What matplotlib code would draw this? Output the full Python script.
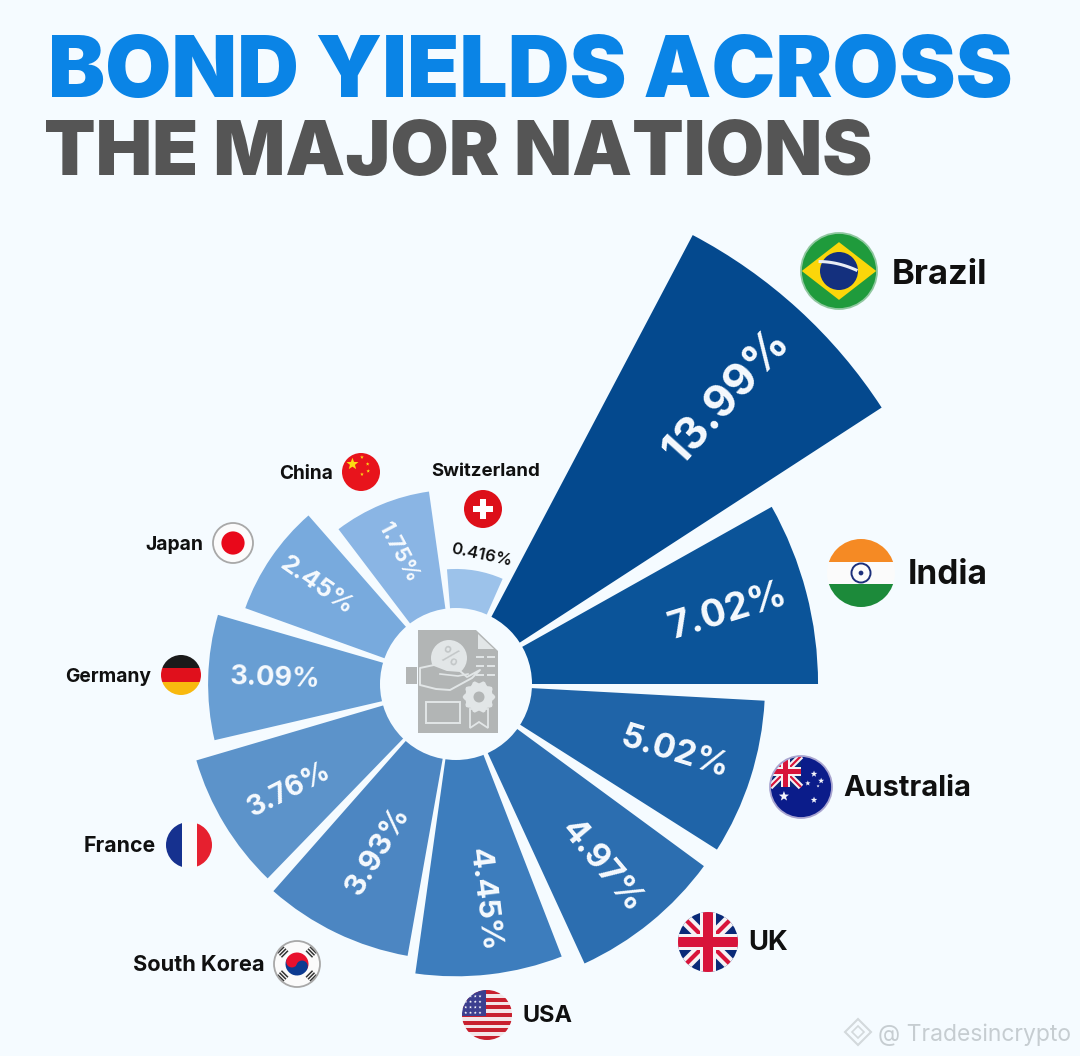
import numpy as np
import matplotlib
matplotlib.use("Agg")
import matplotlib.pyplot as plt
from matplotlib.patches import Wedge, Circle, Rectangle, Polygon

# data
countries = ["Switzerland", "Brazil", "India", "Australia", "UK", "USA",
             "South Korea", "France", "Germany", "Japan", "China"]
yields = [0.416, 13.99, 7.02, 5.02, 4.97, 4.45, 3.93, 3.76, 3.09, 2.45, 1.75]
yield_labels = ["0.416%", "13.99%", "7.02%", "5.02%", "4.97%", "4.45%",
                "3.93%", "3.76%", "3.09%", "2.45%", "1.75%"]

BG = "#f5fbff"
FONT = "Inter"
CX, CY = 456, 684

# sector layout, clockwise from 12 o'clock
start_angles = [-4.5, 27.8, 60.7, 93.1, 126.3, 158.8, 190.1, 224.1, 256.9, 289.8, 322.8]
end_angles = [23.9, 57.0, 90.0, 122.4, 155.3, 188.0, 221.4, 253.6, 286.2, 318.8, 352.0]
sector_colors = ["#9cc2ea", "#04498e", "#0b5499", "#1f64a8", "#2c6eb0", "#3d7dbd",
                 "#4c86c2", "#5c93ca", "#689ed3", "#78aadd", "#8ab5e4"]

# label placement: x, y, rotation, text width
value_text = [(481, 555, -12, 62), (727, 396, 48, 166), (728, 612, 17, 122), (675, 753, -17, 112),
              (602, 866, -50, 110), (484, 900, -83, 104), (378, 851, 59, 98), (289, 790, 27, 90),
              (275, 679, -2, 90), (317, 586, -35, 84), (398, 552, -62, 64)]
name_text = [(431, 470, 109), (892, 272, 96), (908, 572, 80), (843, 785, 128), (748, 940, 40),
             (522, 1013, 50), (133, 963, 132), (84, 844, 72), (65, 675, 86), (145, 543, 58), (279, 472, 54)]
flag_spots = [(483, 509, 19), (839, 271, 38), (861, 573, 34), (801, 787, 31), (708, 942, 30),
              (487, 1015, 25), (297, 964, 23), (189, 845, 23), (181, 675, 20), (233, 543, 20), (361, 472, 19)]


def radius_of(value):
    # the picture's radial scale, pixels from the hub
    return 50 + 105.8 * value ** 0.555


def fit_text(ax, x, y, s, width, rotation=0, **kw):
    t = ax.text(x, y, s, rotation=0, **kw)
    renderer = ax.figure.canvas.get_renderer()
    w = t.get_window_extent(renderer).width
    t.set_fontsize(t.get_fontsize() * width / w)
    t.set_rotation(rotation)
    return t


def star(ax, x, y, r, color, clip, rot=0):
    a = np.deg2rad(np.arange(10) * 36 - 90 + rot)
    rr = np.where(np.arange(10) % 2 == 0, r, r * 0.42)
    p = Polygon(np.c_[x + rr * np.cos(a), y + rr * np.sin(a)], fc=color, ec="none", zorder=6)
    ax.add_patch(p)
    p.set_clip_path(clip)


def union_jack(ax, x0, y0, w, h, clip):
    # x0, y0 top left
    def add(p):
        ax.add_patch(p)
        p.set_clip_path(clip)
    add(Rectangle((x0, y0), w, h, fc="#0a2a78", ec="none", zorder=5))
    for a, b in [((x0, y0), (x0 + w, y0 + h)), ((x0 + w, y0), (x0, y0 + h))]:
        l, = ax.plot([a[0], b[0]], [a[1], b[1]], color="#f7f2f4", lw=h * 0.2 * 0.72, zorder=5.1, solid_capstyle="butt")
        l.set_clip_path(clip)
        l, = ax.plot([a[0], b[0]], [a[1], b[1]], color="#d8143a", lw=h * 0.07 * 0.72, zorder=5.2, solid_capstyle="butt")
        l.set_clip_path(clip)
    add(Rectangle((x0 + w * 0.36, y0), w * 0.28, h, fc="#f7f2f4", ec="none", zorder=5.3))
    add(Rectangle((x0, y0 + h * 0.36), w, h * 0.28, fc="#f7f2f4", ec="none", zorder=5.3))
    add(Rectangle((x0 + w * 0.42, y0), w * 0.16, h, fc="#d8143a", ec="none", zorder=5.4))
    add(Rectangle((x0, y0 + h * 0.42), w, h * 0.16, fc="#d8143a", ec="none", zorder=5.4))


def draw_flag(ax, name, x, y, r):
    clip = Circle((x, y), r, transform=ax.transData)

    def add(p):
        ax.add_patch(p)
        p.set_clip_path(clip)

    def band(y0, y1, color, x0=-1, x1=1):
        add(Rectangle((x + x0 * r, y + y0 * r), (x1 - x0) * r, (y1 - y0) * r, fc=color, ec="none", zorder=5))

    if name == "Brazil":
        band(-1, 1, "#1f9b3c")
        add(Polygon([(x - r * 0.98, y), (x, y - r * 0.76), (x + r * 0.98, y), (x, y + r * 0.76)], fc="#fbd60a", ec="none", zorder=5.1))
        add(Circle((x, y), r * 0.5, fc="#14307e", ec="none", zorder=5.2))
        arc = np.linspace(-0.95, -0.05, 20)
        l, = ax.plot(x - r * 0.55 + r * 1.05 * (arc + 1), y - r * 0.25 + r * 0.45 * (arc + 1) ** 2 * 0.55, color="#e8edf5", lw=2.2, zorder=5.3)
        l.set_clip_path(clip)
    elif name == "India":
        band(-1, -0.33, "#f58a24")
        band(-0.33, 0.33, "#fbfbfb")
        band(0.33, 1, "#1c8a3a")
        ax.add_patch(Circle((x, y), r * 0.28, fc="none", ec="#1c2f7a", lw=1.4, zorder=5.2))
        ax.add_patch(Circle((x, y), r * 0.07, fc="#1c2f7a", ec="none", zorder=5.2))
    elif name == "Australia":
        band(-1, 1, "#0b1c8a")
        union_jack(ax, x - r, y - r, r, r, clip)
        for sx, sy, sr in [(0.42, -0.42, 0.11), (0.65, -0.2, 0.1), (0.22, -0.12, 0.09), (0.55, -0.03, 0.05), (0.42, 0.42, 0.11), (-0.55, 0.3, 0.17)]:
            star(ax, x + sx * r, y + sy * r, sr * r, "#f4f4fa", clip)
    elif name == "UK":
        union_jack(ax, x - r, y - r, 2 * r, 2 * r, clip)
    elif name == "USA":
        band(-1, 1, "#f3e6e8")
        for k in range(7):
            band(-1 + k * 2 / 6.5, -1 + k * 2 / 6.5 + 2 / 13, "#c8202f")
        band(-1, 0.02, "#3c3f8f", -1, -0.05)
        for sx in np.arange(-0.85, -0.1, 0.19):
            for sy in np.arange(-0.75, 0, 0.22):
                star(ax, x + sx * r, y + sy * r, 0.06 * r, "#ffffff", clip)
    elif name == "South Korea":
        band(-1, 1, "#fbfbfb")
        add(Wedge((x, y), r * 0.5, 25, 205, fc="#0d3b91", ec="none", zorder=5.1))
        add(Wedge((x, y), r * 0.5, 205, 385, fc="#e8112d", ec="none", zorder=5.1))
        add(Circle((x - r * 0.22, y - r * 0.1), r * 0.25, fc="#e8112d", ec="none", zorder=5.2))
        add(Circle((x + r * 0.22, y + r * 0.1), r * 0.25, fc="#0d3b91", ec="none", zorder=5.2))
        for sx, sy, rot in [(-0.62, -0.52, -45), (0.62, -0.52, 45), (-0.62, 0.52, 45), (0.62, 0.52, -45)]:
            for d in (-0.12, 0, 0.12):
                a = np.deg2rad(rot)
                px, py = x + (sx + d * np.cos(a + np.pi / 2)) * r, y + (sy + d * np.sin(a + np.pi / 2)) * r
                ax.plot([px - 0.2 * r * np.cos(a), px + 0.2 * r * np.cos(a)], [py - 0.2 * r * np.sin(a), py + 0.2 * r * np.sin(a)],
                        color="#333333", lw=1.1, zorder=5.3, solid_capstyle="butt")
    elif name == "France":
        band(-1, 1, "#fbfbfb")
        add(Rectangle((x - r, y - r), r * 0.68, 2 * r, fc="#16318f", ec="none", zorder=5))
        add(Rectangle((x + r * 0.34, y - r), r * 0.66, 2 * r, fc="#e6202f", ec="none", zorder=5))
    elif name == "Germany":
        band(-1, -0.33, "#1a1a1a")
        band(-0.33, 0.33, "#e0101c")
        band(0.33, 1, "#f8b90f")
    elif name == "Japan":
        band(-1, 1, "#fbfbfb")
        add(Circle((x, y), r * 0.58, fc="#e9081a", ec="none", zorder=5.1))
    elif name == "China":
        band(-1, 1, "#e8141c")
        star(ax, x - r * 0.45, y - r * 0.42, r * 0.33, "#fbdc13", clip)
        for sx, sy in [(0.05, -0.78), (0.35, -0.42), (0.38, -0.05), (0.05, 0.12)]:
            star(ax, x + sx * r, y + sy * r, r * 0.1, "#fbdc13", clip)
    elif name == "Switzerland":
        band(-1, 1, "#dd0f19")
        band(-0.18, 0.18, "#ffffff", -0.55, 0.55)
        band(-0.55, 0.55, "#ffffff", -0.18, 0.18)
    edge = {"Japan": "#a8a8a8", "South Korea": "#a8a8a8", "Brazil": "#8fc79f", "Australia": "#a8a4d0"}.get(name)
    if edge:
        ax.add_patch(Circle((x, y), r, fc="none", ec=edge, lw=1.3, zorder=5.6))


def draw_icon(ax):
    gray = "#b2b5b5"
    light = "#e2e6e7"
    ax.add_patch(Polygon([(418, 630), (476, 630), (498, 651), (498, 733), (418, 733)], fc=gray, ec="none", zorder=7))
    ax.add_patch(Polygon([(478, 634), (478, 649), (494, 649)], fc=light, ec="none", zorder=7.1))
    ax.add_patch(Circle((449, 658), 18, fc=light, ec="none", zorder=7.2))
    ax.text(449, 658, "%", fontsize=16, color="#c3c7c8", rotation=-25, ha="center", va="center", family=FONT, zorder=7.3)
    for yy in (657, 666, 675):
        for xx in ((476, 484), (487, 495)):
            ax.plot(xx, [yy, yy], color=light, lw=1.4, zorder=7.2, solid_capstyle="butt")
    ax.add_patch(Rectangle((406, 667), 11, 17, fc=gray, ec="none", zorder=7.2))
    hand = [(420, 668), (434, 665), (447, 670), (460, 671), (467, 677), (480, 670), (472, 678),
            (450, 690), (436, 689), (420, 685)]
    ax.add_patch(Polygon(hand, fc=gray, ec=light, lw=1.4, zorder=7.3, joinstyle="round"))
    ax.plot([440, 458, 468], [674, 676, 674], color=light, lw=1.2, zorder=7.4)
    a = np.linspace(0, 2 * np.pi, 49)
    rr = 15 + 1.4 * np.cos(a * 10)
    ax.add_patch(Polygon(np.c_[479 + rr * np.cos(a), 697 + rr * np.sin(a)], fc=light, ec="none", zorder=7.4))
    ax.add_patch(Circle((479, 697), 5.5, fc=gray, ec="none", zorder=7.5))
    ax.add_patch(Polygon([(470, 709), (488, 709), (488, 728), (479, 722), (470, 728)], fc=gray, ec=light, lw=1.3, zorder=7.3))
    ax.add_patch(Rectangle((426, 702), 34, 21, fc=gray, ec=light, lw=1.4, zorder=7.2))


fig = plt.figure(figsize=(10.8, 10.56), dpi=100, facecolor=BG)
ax = fig.add_axes([0, 0, 1, 1])
ax.set_xlim(0, 1080)
ax.set_ylim(1056, 0)
ax.axis("off")
fig.canvas.draw()

# title
fit_text(ax, 48, 97, "BOND YIELDS ACROSS", 965, family=FONT, fontweight="black", fontsize=60,
         color="#0a84e6", ha="left", va="baseline", zorder=8)
fit_text(ax, 44, 175, "THE MAJOR NATIONS", 830, family=FONT, fontweight="black", fontsize=55,
         color="#555555", ha="left", va="baseline", zorder=8)

# sectors
for i, value in enumerate(yields):
    ax.add_patch(Wedge((CX, CY), radius_of(value), start_angles[i] - 90, end_angles[i] - 90,
                       fc=sector_colors[i], ec="none", zorder=2))
ax.add_patch(Circle((CX, CY), 76, fc=BG, ec="none", zorder=3))
draw_icon(ax)

# labels and flags
for i, name in enumerate(countries):
    x, y, rot, w = value_text[i]
    color = "#111111" if i == 0 else "#f6fafe"
    weight = "semibold" if i == 0 else "bold"
    fit_text(ax, x, y, yield_labels[i], w, rotation=rot, rotation_mode="anchor", family=FONT, fontweight=weight,
             fontsize=24, color=color, ha="center", va="center", zorder=8)
    x, y, w = name_text[i]
    fit_text(ax, x, y, name, w, family=FONT, fontweight="bold", fontsize=20, color="#101010",
             ha="left", va="center_baseline", zorder=8)
    fx, fy, fr = flag_spots[i]
    draw_flag(ax, name, fx, fy, fr)

# watermark
fit_text(ax, 878, 1032, "@ Tradesincrypto", 194, family=FONT, fontsize=16, color="#c6cdd1",
         ha="left", va="center_baseline", zorder=8)
ax.add_patch(Polygon([(858, 1019), (871, 1032), (858, 1045), (845, 1032)], fc="none", ec="#d3d9dc", lw=1.5, zorder=8))
ax.add_patch(Polygon([(858, 1026), (864, 1032), (858, 1038), (852, 1032)], fc="none", ec="#d3d9dc", lw=1.2, zorder=8))

fig.savefig("out.png", dpi=100, facecolor=BG)
